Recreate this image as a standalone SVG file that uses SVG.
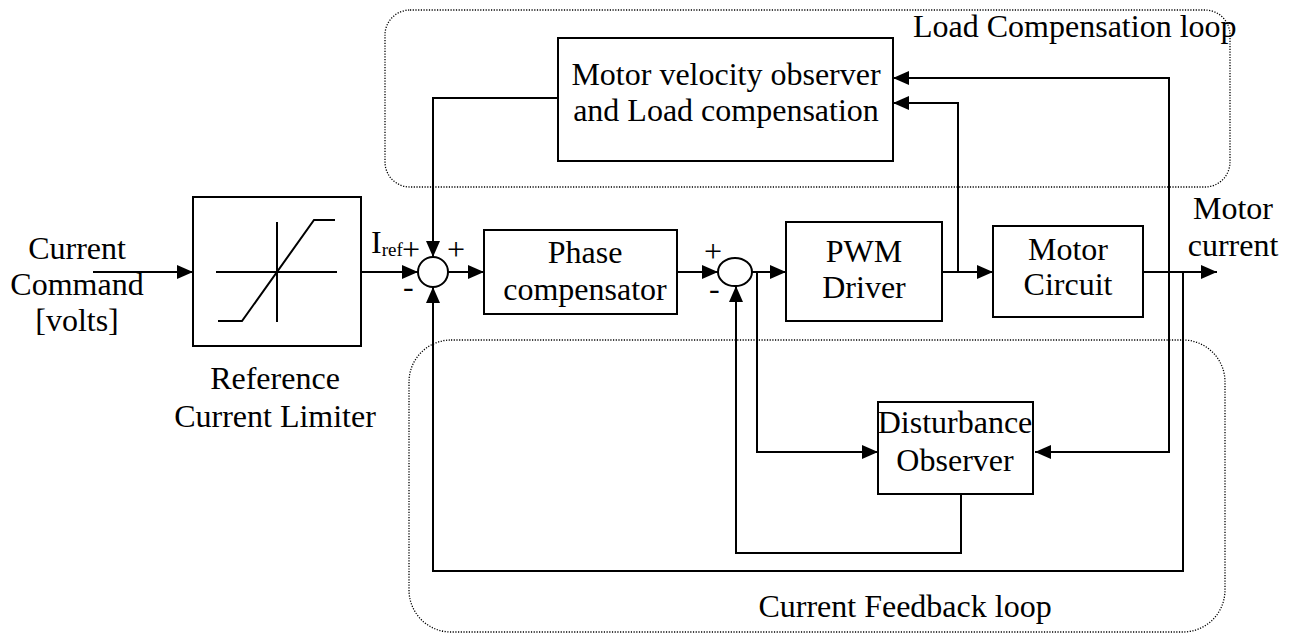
<svg xmlns="http://www.w3.org/2000/svg" width="1291" height="634" viewBox="0 0 1291 634">
<style>
.box{fill:#fff;stroke:#000;stroke-width:2}
.ln{fill:none;stroke:#000;stroke-width:2}
.loop{fill:none;stroke:#000;stroke-width:1.3;stroke-dasharray:1.2 1.5}
text{font-family:"Liberation Serif","Times New Roman",serif;font-size:32px;fill:#000}
.c{text-anchor:middle}
</style>
<defs>
<marker id="arr" markerUnits="userSpaceOnUse" markerWidth="16" markerHeight="14" refX="16" refY="7" orient="auto"><path d="M0,0 L16,7 L0,14 z" fill="#000"/></marker>
</defs>
<rect fill="#fff" width="1291" height="634"/>
<g id="loops">
<rect class="loop" x="385" y="10" width="845" height="177" rx="25"/>
<rect class="loop" x="409" y="340" width="816" height="292" rx="42"/>
<text x="913" y="37">Load Compensation loop</text>
<text x="905" y="617" class="c">Current Feedback loop</text>
</g>
<g id="connectors">
<path class="ln" d="M93,272 H193" marker-end="url(#arr)"/>
<path class="ln" d="M361,272 H418" marker-end="url(#arr)"/>
<path class="ln" d="M448,272 H484" marker-end="url(#arr)"/>
<path class="ln" d="M677,272 H718" marker-end="url(#arr)"/>
<path class="ln" d="M752,272 H786" marker-end="url(#arr)"/>
<path class="ln" d="M942,272 H993" marker-end="url(#arr)"/>
<path class="ln" d="M1143,272 H1217" marker-end="url(#arr)"/>
<path class="ln" d="M958,272 V103 H893" marker-end="url(#arr)"/>
<path class="ln" d="M1169,272 V78 H893" marker-end="url(#arr)"/>
<path class="ln" d="M1169,272 V452 H1035" marker-end="url(#arr)"/>
<path class="ln" d="M1183,272 V571 H433 V287" marker-end="url(#arr)"/>
<path class="ln" d="M757,272 V452 H878" marker-end="url(#arr)"/>
<path class="ln" d="M961,494 V553 H736 V286" marker-end="url(#arr)"/>
<path class="ln" d="M558,98 H433 V257" marker-end="url(#arr)"/>
</g>
<g id="input-label">
<text class="c" x="77" y="259">Current</text>
<text class="c" x="77" y="295">Command</text>
<text class="c" x="77" y="331">[volts]</text>
</g>
<g id="limiter">
<rect class="box" x="193" y="197" width="168" height="149"/>
<path class="ln" d="M216,272 H337 M277,222 V322 M218,321 H242 L314,220 H335"/>
<text class="c" x="275" y="389">Reference</text>
<text class="c" x="275" y="427">Current Limiter</text>
</g>
<g id="sum1">
<circle class="box" cx="433" cy="272" r="15"/>
<text x="371" y="253">I<tspan font-size="19" dy="3">ref</tspan></text>
<text x="402" y="260">+</text>
<text x="447" y="260">+</text>
<text x="403" y="297">-</text>
</g>
<g id="phase">
<rect class="box" x="484" y="230" width="193" height="84"/>
<text class="c" x="585" y="263">Phase</text>
<text class="c" x="585" y="300">compensator</text>
</g>
<g id="sum2">
<ellipse class="box" cx="735" cy="272" rx="17" ry="14"/>
<text x="704" y="262">+</text>
<text x="709" y="299">-</text>
</g>
<g id="pwm">
<rect class="box" x="786" y="222" width="156" height="99"/>
<text class="c" x="864" y="262">PWM</text>
<text class="c" x="864" y="298">Driver</text>
</g>
<g id="motor">
<rect class="box" x="993" y="226" width="150" height="91"/>
<text class="c" x="1068" y="260">Motor</text>
<text class="c" x="1068" y="295">Circuit</text>
</g>
<g id="output-label">
<text class="c" x="1233" y="219">Motor</text>
<text class="c" x="1233" y="256">current</text>
</g>
<g id="observer">
<rect class="box" x="558" y="38" width="335" height="123"/>
<text class="c" x="726" y="85">Motor velocity observer</text>
<text class="c" x="726" y="121">and Load compensation</text>
</g>
<g id="disturbance">
<rect class="box" x="878" y="402" width="155" height="92"/>
<text class="c" x="955" y="433">Disturbance</text>
<text class="c" x="955" y="471">Observer</text>
</g>
</svg>
